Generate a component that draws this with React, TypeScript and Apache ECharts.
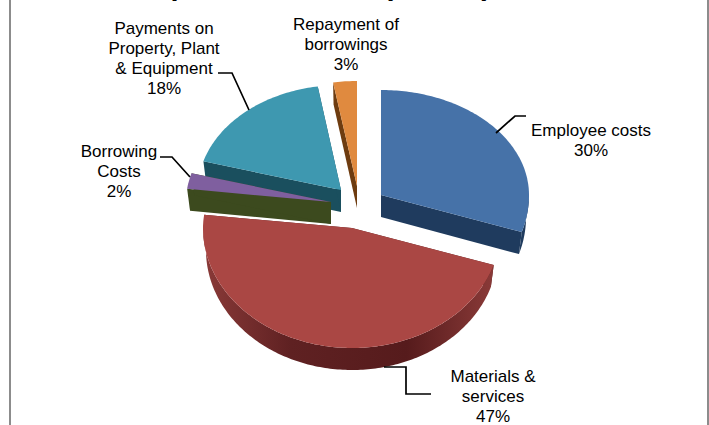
import React, { useEffect, useRef } from "react";
import * as echarts from "echarts";

const categories = ["Employee costs", "Materials & services", "Borrowing Costs", "Payments on Property, Plant & Equipment", "Repayment of borrowings"];
const values = [30, 47, 2.4, 18, 2.6];
const labelLines = [["Employee costs"], ["Materials &", "services"], ["Borrowing", "Costs"], ["Payments on", "Property, Plant", "& Equipment"], ["Repayment of", "borrowings"]];
const titleText = "Expenditure Cost (Actual)";

// presentation only
const centers = [[381, 195], [352, 228], [331, 202], [341, 190], [357, 186]];
const radii = [148, 149, 145, 143, 147];
const topColors = ["#4672a8", "#aa4744", "#7f5f9f", "#3e98b0", "#e08a3f"];
const sideColors = ["#1f3b5e", "#5a1e1f", "#3c4a1e", "#1a4f5e", "#6e3c10"];
const drawOrder = [1, 3, 4, 2, 0]; // z2 per slice
const labelAnchors = [[591, 130], [493, 376], [119, 151], [164, 28], [346, 24]];
const leaders = [
  [[526, 116], [515, 116], [496, 133]],
  [[384, 367], [406, 367], [406, 394], [431, 394]],
  [[160, 157], [172, 157], [190, 177]],
  [[218, 73], [232, 73], [249, 110]],
];
const RY_BACK = 105, RY_FRONT = 120, DEPTH = 22, LINE = 20, NARROW = 0.98;

const total = values.reduce((a, b) => a + b, 0);

function project(c: number[], rx: number, deg: number): number[] {
  const t = (deg * Math.PI) / 180;
  const cos = Math.cos(t);
  const ry = cos > 0 ? RY_BACK : RY_FRONT;
  return [c[0] + rx * Math.sin(t), c[1] - ry * cos];
}

function renderItem(params: any, api: any) {
  const i = params.dataIndex;
  const v = api.value(0);
  let a0 = 0;
  for (let k = 0; k < i; k++) a0 += (values[k] / total) * 360;
  const a1 = a0 + (v / total) * 360;
  const c = centers[i];
  const rim: number[][] = [];
  const n = Math.max(2, Math.ceil(a1 - a0));
  for (let k = 0; k <= n; k++) rim.push(project(c, radii[i], a0 + ((a1 - a0) * k) / n));
  const apex = c;
  const apexD = [c[0], c[1] + DEPTH];
  const side = sideColors[i];
  const z = drawOrder[i] * 10;
  const children: any[] = [];
  const poly = (points: number[][], fill: any, dz: number) => ({ type: "polygon", z2: z + dz, shape: { points }, style: { fill, stroke: null } });
  const down = (p: number[]) => [c[0] + (p[0] - c[0]) * NARROW, p[1] + DEPTH];
  children.push(poly([apex, rim[0], down(rim[0]), apexD], side, 0));
  children.push(poly([apex, rim[n], down(rim[n]), apexD], side, 0));
  const front = rim.filter((_, k) => { const d = a0 + ((a1 - a0) * k) / n; return d >= 90 && d <= 270; });
  if (front.length > 1) {
    const wallFill = i === 1
      ? new echarts.graphic.LinearGradient(0, 0, 1, 0, [
          { offset: 0, color: "#8a3a38" }, { offset: 0.3, color: "#5f2122" }, { offset: 0.7, color: "#561b1c" }, { offset: 1, color: "#8a3a38" },
        ])
      : side;
    children.push(poly([...front, ...front.slice().reverse().map(down)], wallFill, 1));
  }
  children.push(poly([apex, ...rim], topColors[i], 2));
  const lines = [...labelLines[i], Math.round((v / total) * 100) + "%"];
  lines.forEach((txt, k) => {
    children.push({
      type: "text", z2: 200,
      x: labelAnchors[i][0], y: labelAnchors[i][1] + k * LINE,
      style: { text: txt, fill: "#000", font: "17px 'Liberation Sans', Arial, sans-serif", align: "center", verticalAlign: "middle" },
    });
  });
  return { type: "group", children };
}

export default function App() {
  const ref = useRef<HTMLDivElement>(null);
  useEffect(() => {
    document.body.style.margin = "0";
    const chart = echarts.init(ref.current!, null, { renderer: "svg" });
    chart.setOption({
      animation: false,
      backgroundColor: "#fff",
      graphic: [
        { type: "line", shape: { x1: 10, y1: 0, x2: 10, y2: 425 }, style: { stroke: "#8c8c8c", lineWidth: 2 } },
        { type: "line", shape: { x1: 708, y1: 0, x2: 708, y2: 425 }, style: { stroke: "#8c8c8c", lineWidth: 2 } },
        { type: "text", x: 135, y: -15, style: { text: titleText, fill: "#000", font: "bold 29px 'Liberation Sans', Arial, sans-serif", align: "left", verticalAlign: "middle" } },
        ...leaders.map((pts) => ({ type: "polyline", z: 5, shape: { points: pts }, style: { stroke: "#000", lineWidth: 1.7, fill: null } })),
      ],
      series: [{
        type: "custom",
        coordinateSystem: "none",
        renderItem,
        data: values.map((v, i) => ({ name: categories[i], value: [v] })),
      }],
    });
    return () => chart.dispose();
  }, []);
  return <div ref={ref} style={{ width: 709, height: 425 }} />;
}
